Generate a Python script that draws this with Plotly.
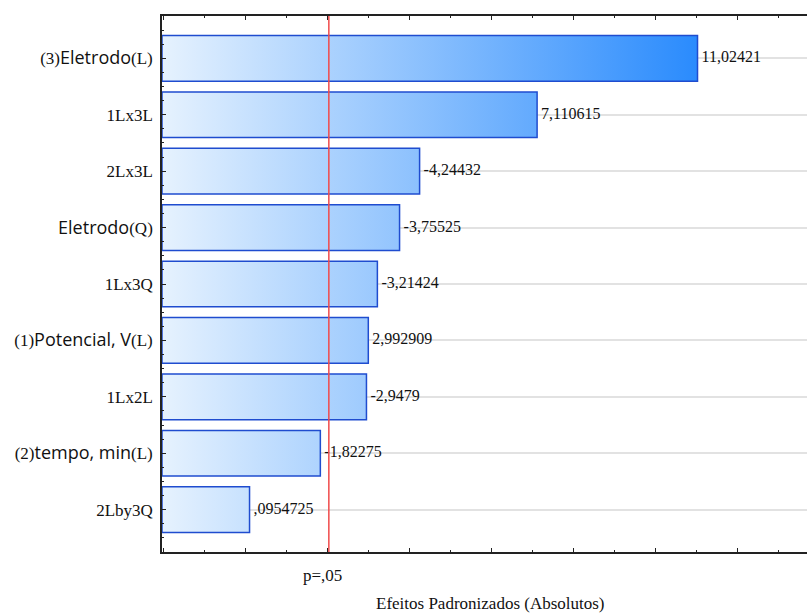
import plotly.graph_objects as go

# Standardized effects (Pareto chart), top to bottom
SANS = "<span style=\"font-family:'Open Sans';font-size:18px\">{}</span>"
effects = [
    "(3)" + SANS.format("Eletrodo") + "(L)",
    "1Lx3L",
    "2Lx3L",
    SANS.format("Eletrodo") + "(Q)",
    "1Lx3Q",
    "(1)" + SANS.format("Potencial, V") + "(L)",
    "1Lx2L",
    "(2)" + SANS.format("tempo, min") + "(L)",
    "2Lby3Q",
]
effect_values = [11.02421, 7.110615, -4.24432, -3.75525, -3.21424,
                 2.992909, -2.9479, -1.82275, 0.0954725]
p_critical = 2.03
p_label = "p=,05"
x_title = "Efeitos Padronizados (Absolutos)"

X_MIN, X_MAX = -2.04, 13.695
HALF = 0.405
SERIF = "Liberation Serif"
INK = "#111111"


def fmt(v):
    s = f"{v:.7g}"
    s = s.replace("-0.", "-.")
    if s.startswith("0."):
        s = s[1:]
    return "\u00a0" + s.replace(".", ",")


abs_vals = [abs(v) for v in effect_values]
fig = go.Figure()

for i, a in enumerate(abs_vals):
    fig.add_trace(go.Scatter(
        x=[X_MIN, a, a, X_MIN, X_MIN],
        y=[i - HALF, i - HALF, i + HALF, i + HALF, i - HALF],
        mode="lines",
        fill="toself",
        fillgradient=dict(type="horizontal",
                          colorscale=[[0, "#e6f2fe"], [1, "#2a8bfd"]],
                          start=X_MIN, stop=max(abs_vals)),
        line=dict(color="#1f4ccf", width=1.5),
        hoverinfo="skip",
        showlegend=False,
    ))

fig.add_trace(go.Scatter(
    x=abs_vals,
    y=list(range(len(abs_vals))),
    mode="text",
    text=[fmt(v) for v in effect_values],
    textposition="middle right",
    textfont=dict(family=SERIF, size=16, color=INK),
    hoverinfo="skip",
    showlegend=False,
))

fig.add_shape(type="line", xref="x", yref="paper",
              x0=p_critical, x1=p_critical, y0=0, y1=1,
              line=dict(color="#f04a4a", width=1.5), layer="above")

fig.add_annotation(x=p_critical, xref="x", y=0, yref="paper",
                   text=p_label, showarrow=False, xanchor="center",
                   yanchor="top", yshift=-12, xshift=-6,
                   font=dict(family=SERIF, size=17, color=INK))
fig.add_annotation(x=0.509, xref="paper", y=0, yref="paper",
                   text=x_title, showarrow=False, xanchor="center",
                   yanchor="top", yshift=-40,
                   font=dict(family=SERIF, size=17, color=INK))

fig.update_layout(
    width=807, height=615,
    margin=dict(l=162, r=0, t=16, b=63),
    paper_bgcolor="white", plot_bgcolor="white",
    font=dict(family=SERIF, size=17, color=INK),
    xaxis=dict(
        range=[X_MIN, X_MAX], tickmode="linear", tick0=0, dtick=2,
        ticks="inside", ticklen=4, tickwidth=1, tickcolor="#222",
        showticklabels=False, showgrid=False, zeroline=False,
        showline=True, linecolor="#222", linewidth=1.6, mirror="ticks",
        minor=dict(tickmode="linear", tick0=0, dtick=1, ticks="inside",
                   ticklen=2, tickcolor="#222", showgrid=False),
    ),
    yaxis=dict(
        range=[8.75, -0.75], tickmode="array",
        tickvals=list(range(len(effects))), ticktext=effects,
        ticks="inside", ticklen=4, tickwidth=1, tickcolor="#222",
        tickfont=dict(family=SERIF, size=17, color=INK),
        ticklabelstandoff=4,
        showgrid=True, gridcolor="#e2e2e2", gridwidth=1.5,
        zeroline=False, showline=True, linecolor="#222", linewidth=1.6,
        minor=dict(tickmode="linear", tick0=0, dtick=0.25, ticks="inside",
                   ticklen=2, tickcolor="#222", showgrid=False),
    ),
)

fig.write_html("out.html")
